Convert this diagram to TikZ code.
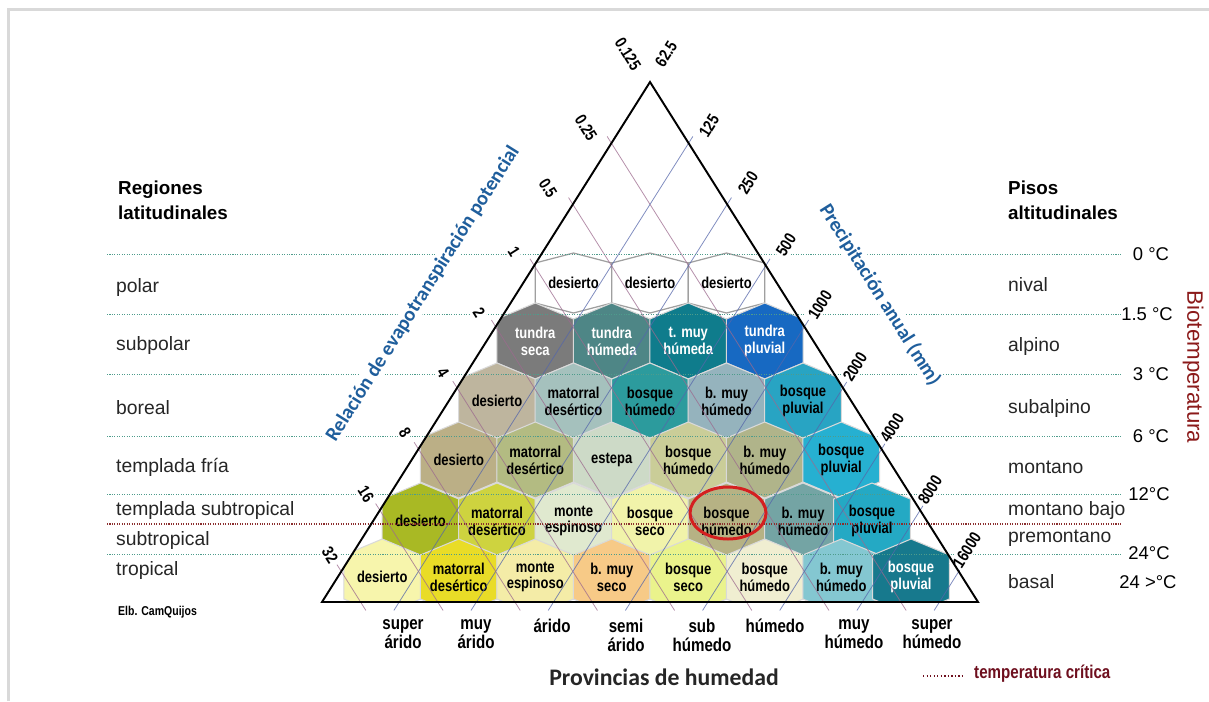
\documentclass[tikz,border=0pt]{standalone}
\usepackage{fontspec}
\setmainfont{Liberation Sans}
\newfontfamily\narrowfont[FakeStretch=0.82]{Liberation Sans}
\newfontfamily\titlefont{Carlito}
\usetikzlibrary{calc}

\definecolor{gridteal}{HTML}{4E9C8C}
\definecolor{critred}{HTML}{8B2E2E}
\definecolor{petmauve}{HTML}{9C6A8E}
\definecolor{precblue}{HTML}{5566AA}
\definecolor{axisblue}{HTML}{1F5E9C}
\definecolor{biored}{HTML}{8B1A1A}
\definecolor{legendred}{HTML}{6E0F1E}
\definecolor{ringred}{HTML}{D42020}
\definecolor{framegray}{HTML}{D9D9D9}

% One life zone: centre x, centre y, fill (HTML), text colour, text, node name
\newcommand{\zone}[6]{%
  \definecolor{zonefill}{HTML}{#3}%
  \filldraw[zoneedge,fill=zonefill] ({#1},{#2-\hv}) -- ({#1+\hw},{#2-\hs}) -- ({#1+\hw},{#2+\hs})
    -- ({#1},{#2+\hv}) -- ({#1-\hw},{#2+\hs}) -- ({#1-\hw},{#2-\hs}) -- cycle;
  \node[zonetext,text=#4] (#6) at ({#1},{#2}) {#5};}

\begin{document}
\begin{tikzpicture}[x=0.02cm,y=-0.02cm,
  latlabel/.style={anchor=west,font=\fontsize{11}{13}\selectfont,text=black!85},
  headlabel/.style={anchor=west,align=left,font=\bfseries\fontsize{10.7}{14.2}\selectfont},
  templabel/.style={font=\fontsize{10.5}{12}\selectfont},
  zonetext/.style={align=center,font=\narrowfont\bfseries\fontsize{9}{9.5}\selectfont},
  ticklabel/.style={fill=white,inner sep=1pt,font=\narrowfont\bfseries\fontsize{9.5}{10}\selectfont},
  humlabel/.style={anchor=north,align=center,font=\narrowfont\bfseries\fontsize{10.5}{11}\selectfont},
  axistitle/.style={fill=white,inner sep=1pt,text=axisblue,font=\titlefont\bfseries\fontsize{11.5}{13}\selectfont},
  levelline/.style={gridteal,dash pattern=on 0.6pt off 0.8pt,line width=0.5pt},
  critline/.style={critred,dash pattern=on 0.6pt off 0.8pt,line width=0.6pt},
  petline/.style={petmauve,line width=0.45pt,opacity=0.75},
  precline/.style={precblue,line width=0.45pt,opacity=0.75},
  zoneedge/.style={draw=white!85!black,line width=0.6pt}]

\useasboundingbox (0,0) rectangle (1209,701);

% Define hexagon size.
\def\hw{38.3}     %half width of a hexagon.
\def\hv{38}       %centre to top/bottom vertex.
\def\hs{22}       %centre to shoulder.

% Define coordinates of the triangle.
\coordinate (apex) at (650,82);
\coordinate (bl) at (322,602);
\coordinate (br) at (978,602);

% Frame
\draw[framegray,line width=0.06cm] (8.5,701) -- (8.5,9) -- (1209,9);

% Life zones, clipped by the triangle
\begin{scope}
\clip (apex) -- (bl) -- (br) -- cycle;

% Row 1: polar / nival
\begin{scope}
\def\hv{30}\def\hs{20}
\tikzset{zoneedge/.style={draw=gray!75,line width=0.7pt}}
\foreach \col/\tc/\txt [count=\j] in {FFFFFF/black/desierto,FFFFFF/black/desierto,FFFFFF/black/desierto}
  {\pgfmathsetmacro\cx{650+76.5*(\j-1-1)}
   \zone{\cx}{283}{\col}{\tc}{\txt}{r1c\j}}
\end{scope}

% Row 2: subpolar / alpino
\foreach \col/\tc/\txt [count=\j] in {7B7B7B/white/{tundra\\seca},4E8686/white/{tundra\\húmeda},
    0F7C8C/white/{t. muy\\húmeda},1769C2/white/{tundra\\pluvial}}
  {\pgfmathsetmacro\cx{650+76.5*(\j-1-1.5)}
   \zone{\cx}{341}{\col}{\tc}{\txt}{r2c\j}}

% Row 3: boreal / subalpino
\foreach \col/\tc/\txt [count=\j] in {BEB59E/black/desierto,A5C1BD/black/{matorral\\desértico},
    2C9B9D/black/{bosque\\húmedo},95B3BD/black/{b. muy\\húmedo},28A4C3/black/{bosque\\pluvial}}
  {\pgfmathsetmacro\cx{650+76.5*(\j-1-2)}
   \zone{\cx}{401}{\col}{\tc}{\txt}{r3c\j}}

% Row 4: templada fria / montano
\foreach \col/\tc/\txt [count=\j] in {BBAF86/black/desierto,B3BB82/black/{matorral\\desértico},
    CDDAC7/black/estepa,CACD98/black/{bosque\\húmedo},B0B48A/black/{b. muy\\húmedo},26B0D1/black/{bosque\\pluvial}}
  {\pgfmathsetmacro\cx{650+76.5*(\j-1-2.5)}
   \zone{\cx}{460}{\col}{\tc}{\txt}{r4c\j}}

% Row 5: templada subtropical / montano bajo
\foreach \col/\tc/\txt [count=\j] in {A9B924/black/desierto,CED33F/black/{matorral\\desértico},
    E0E9CF/black/{monte\\espinoso},F1F3AA/black/{bosque\\seco},B6B284/black/{bosque\\húmedo},
    74A4A4/black/{b. muy\\húmedo}}
  {\pgfmathsetmacro\cx{650+76.5*(\j-1-3)}
   \zone{\cx}{521}{\col}{\tc}{\txt}{r5c\j}}
\zone{872}{521}{24A9C4}{black}{bosque\\pluvial}{r5c7}

% Row 6: tropical / basal
\foreach \col/\tc/\txt [count=\j] in {F7F5AC/black/desierto,E9DC27/black/{matorral\\desértico},
    F4ECA7/black/{monte\\espinoso},F7CA87/black/{b. muy\\seco},EAF38C/black/{bosque\\seco},
    F0EED1/black/{bosque\\húmedo},84C7D1/black/{b. muy\\húmedo}}
  {\pgfmathsetmacro\cx{650+76.5*(\j-1-3.5)}
   \zone{\cx}{577}{\col}{\tc}{\txt}{r6c\j}}
\zone{911}{577}{17798D}{white}{bosque\\pluvial}{r6c8}
\end{scope}

% Guide lines from the ticks on both sides down to the base.
\foreach \i in {1,...,8}{
  \coordinate (lt\i) at ({650-38.59*\i},{82+61.18*\i});
  \coordinate (lb\i) at ({978-77.18*\i},602);
  \coordinate (rt\i) at ({650+38.59*\i},{82+61.18*\i});
  \coordinate (rb\i) at ({322+77.18*\i},602);
  \draw[petline] ($(lt\i)!-0.16cm!(lb\i)$) -- ($(lb\i)!-0.2cm!(lt\i)$);
  \draw[precline] ($(rt\i)!-0.16cm!(rb\i)$) -- ($(rb\i)!-0.2cm!(rt\i)$);
}

% Dotted biotemperature lines.
\foreach \y in {254,314,374,436,494,554}
  \draw[levelline] (107,\y) -- (1122,\y);
\draw[critline] (107,524) -- (1122,524);

% Tick labels on both sides.
\foreach \v/\x/\y [count=\k] in {0.125/628/54,0.25/586/128,0.5/548/188,1/514/252,2/479/313,
    4/443/373,8/405/433,16/366/494,32/330/555}
  \node[ticklabel,rotate=-57.8] (pet\k) at (\x,\y) {\v};
\foreach \v/\x/\y [count=\k] in {62.5/666/54,125/709/126,250/748/183,500/786/245,1000/820/305,
    2000/855/367,4000/892/428,8000/930/490,16000/967/550}
  \node[ticklabel,rotate=57.8] (prec\k) at (\x,\y) {\v};

% Axis titles.
\node[axistitle,rotate=57.8] (pettitle) at (423,294) {Relación de evapotranspiración potencial};
\node[axistitle,rotate=-57.8] (prectitle) at (880,295) {Precipitación anual (mm)};

% Triangle.
\draw[line width=1.1pt] (apex) -- (bl) -- (br) -- cycle;

% Highlighted zone.
\draw[ringred,line width=1.7pt] (728,513) ellipse [x radius=0.76cm,y radius=0.52cm];

% Latitudinal regions.
\node[headlabel] (regions) at (112,200) {Regiones\\latitudinales};
\foreach \t/\y [count=\k] in {polar/287,subpolar/345,boreal/408,templada fría/467,
    templada subtropical/510,subtropical/540,tropical/570}
  \node[latlabel] (lat\k) at (110,\y) {\t};
\node[anchor=west,font=\narrowfont\bfseries\fontsize{7.3}{8}\selectfont] (author) at (112,612) {Elb. CamQuijos};

% Altitudinal belts.
\node[headlabel] (belts) at (1002,200) {Pisos\\altitudinales};
\foreach \t/\y [count=\k] in {nival/285,alpino/346,subalpino/408,montano/467,
    montano bajo/510,premontano/538,basal/582}
  \node[latlabel] (alt\k) at (1002,\y) {\t};

% Biotemperature values.
\foreach \t/\x/\y [count=\k] in {0 °C/1151/254,1.5 °C/1147/314,3 °C/1151/374,6 °C/1151/436,
    12°C/1149/494,24°C/1149/553,24 >°C/1148/582}
  \node[templabel] (temp\k) at (\x,\y) {\t};
\node[rotate=-90,text=biored,font=\fontsize{12.7}{14}\selectfont] (biotemp) at (1193,367) {Biotemperatura};

% Humidity provinces.
\foreach \t/\x [count=\k] in {{super\\árido}/403,{muy\\árido}/476,árido/552,{semi\\árido}/626,
    {sub\\húmedo}/702,húmedo/775,{muy\\húmedo}/854,{super\\húmedo}/932}
  \node[humlabel] (hum\k) at (\x,613) {\t};
\node[font=\titlefont\bfseries\fontsize{13.5}{15}\selectfont,text=black!85] (provinces) at (664,677) {Provincias de humedad};

% Legend.
\coordinate (legstart) at (923,676);
\coordinate (legend) at (965,676);
\draw[legendred,dash pattern=on 0.8pt off 1.2pt,line width=0.9pt] (legstart) -- (legend);
\node[anchor=west,text=legendred,font=\narrowfont\bfseries\fontsize{10.5}{12}\selectfont] (critical) at (968,674) {temperatura crítica};

\end{tikzpicture}
\end{document}
